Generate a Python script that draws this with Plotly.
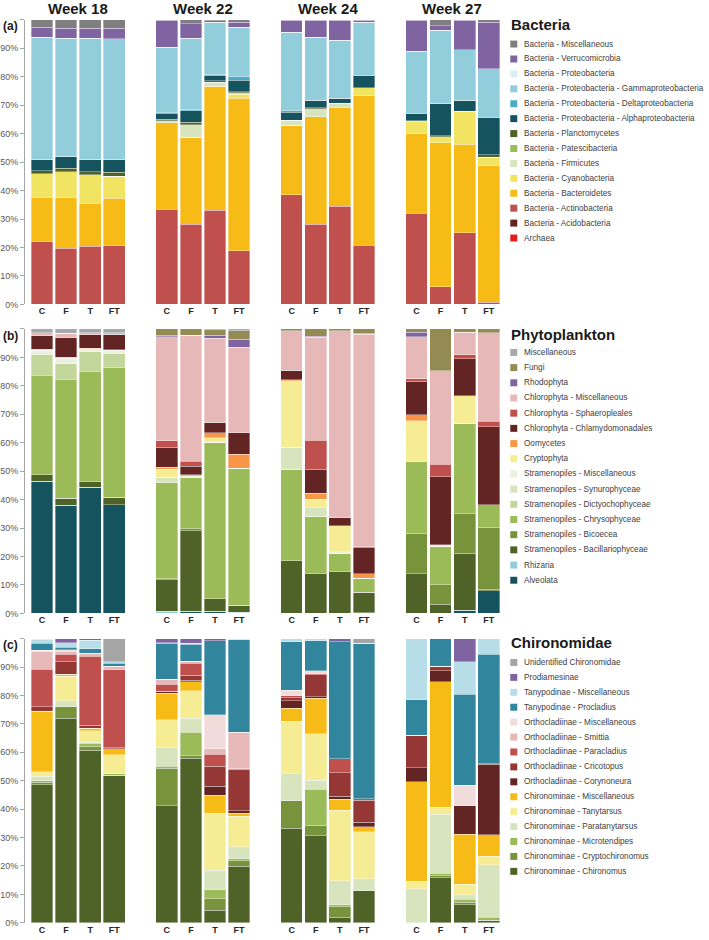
import plotly.graph_objects as go

W, H = 709, 940

weeks = ["Week 18", "Week 22", "Week 24", "Week 27"]
treatments = ["C", "F", "T", "FT"]

# ---- Bacteria (legend order, top of stack first) ----
# each list: Week18 C,F,T,FT | Week22 C,F,T,FT | Week24 ... | Week27 ...
bacteria_taxa = [
    "Bacteria - Miscellaneous", "Bacteria - Verrucomicrobia", "Bacteria - Proteobacteria",
    "Bacteria - Proteobacteria - Gammaproteobacteria", "Bacteria - Proteobacteria - Deltaproteobacteria",
    "Bacteria - Proteobacteria - Alphaproteobacteria", "Bacteria - Planctomycetes",
    "Bacteria - Patescibacteria", "Bacteria - Firmicutes", "Bacteria - Cyanobacteria",
    "Bacteria - Bacteroidetes", "Bacteria - Actinobacteria", "Bacteria - Acidobacteria", "Archaea",
]
bacteria_colors = [
    "#7f7f7f", "#8064a2", "#dbeef4", "#92cddc", "#4bacc6", "#15535f", "#4f6228",
    "#9bbb59", "#d7e4bd", "#f2e463", "#f7bb17", "#c0504d", "#632523", "#e0201b",
]
bacteria = {
    "Bacteria - Miscellaneous": [2.6, 3.0, 2.9, 3.0, 0.2, 1.4, 0.3, 0.9, 0.2, 0.2, 0.2, 0.2, 0.2, 2.1, 0.2, 0.9],
    "Bacteria - Verrucomicrobia": [3.5, 3.5, 3.6, 3.7, 9.4, 5.0, 0.6, 1.7, 4.2, 5.9, 7.0, 0.7, 10.9, 1.6, 10.3, 16.2],
    "Bacteria - Proteobacteria": [0] * 16,
    "Bacteria - Proteobacteria - Gammaproteobacteria": [42.8, 41.4, 42.4, 42.2, 22.9, 25.1, 18.4, 17.4, 27.4, 22.1, 20.4, 18.8, 21.9, 25.6, 17.8, 17.3],
    "Bacteria - Proteobacteria - Deltaproteobacteria": [0.2, 0.2, 0.2, 0.2, 0.3, 0.5, 0.3, 1.3, 0.6, 0, 0, 0, 0, 0, 0, 0],
    "Bacteria - Proteobacteria - Alphaproteobacteria": [3.9, 4.1, 4.3, 4.5, 2.2, 3.9, 1.8, 3.9, 2.8, 2.7, 1.7, 4.1, 2.4, 11.4, 3.8, 13.0],
    "Bacteria - Planctomycetes": [1.0, 1.1, 1.1, 1.3, 0.4, 0.9, 0.5, 0.4, 0, 0.3, 0, 0, 0, 0.3, 0, 0.9],
    "Bacteria - Patescibacteria": [0] * 16,
    "Bacteria - Firmicutes": [0, 0, 0, 0, 0.8, 4.5, 1.4, 0.6, 1.9, 2.9, 1.6, 0, 0.4, 0, 0, 0],
    "Bacteria - Cyanobacteria": [8.4, 9.3, 10.0, 7.8, 0, 0, 0, 1.4, 0, 0, 0, 2.9, 4.2, 2.2, 11.6, 3.0],
    "Bacteria - Bacteroidetes": [15.5, 17.6, 15.1, 16.7, 30.4, 30.5, 43.6, 53.5, 24.3, 37.7, 34.6, 52.6, 27.9, 50.6, 31.1, 48.0],
    "Bacteria - Actinobacteria": [22.1, 19.8, 20.4, 20.6, 33.4, 28.2, 33.1, 18.9, 38.6, 28.2, 34.5, 20.7, 32.1, 6.2, 25.2, 0.7],
    "Bacteria - Acidobacteria": [0] * 16,
    "Archaea": [0] * 16,
}

# ---- Phytoplankton ----
phyto_taxa = [
    "Miscellaneous", "Fungi", "Rhodophyta", "Chlorophyta - Miscellaneous", "Chlorophyta - Sphaeropleales",
    "Chlorophyta - Chlamydomonadales", "Oomycetes", "Cryptophyta", "Stramenopiles - Miscellaneous",
    "Stramenopiles - Synurophyceae", "Stramenopiles - Dictyochophyceae", "Stramenopiles - Chrysophyceae",
    "Stramenopiles - Bicoecea", "Stramenopiles - Bacillariophyceae", "Rhizaria", "Alveolata",
]
phyto_colors = [
    "#a5a9ae", "#948a54", "#8064a2", "#e6b9b8", "#c0504d", "#632523", "#f79646", "#f5ec94",
    "#ebf1de", "#d7e4bd", "#c3d69b", "#9bbb59", "#77933c", "#4f6228", "#92cddc", "#15535f",
]
phyto = {
    "Miscellaneous": [1.3, 1.5, 1.3, 1.3, 0, 0, 0.3, 0.7, 0, 0, 0, 0, 0, 0, 0, 0],
    "Fungi": [0, 0, 0, 0, 2.3, 2.3, 2.0, 3.0, 0.7, 2.6, 0.6, 1.5, 1.2, 14.7, 1.2, 1.4],
    "Rhodophyta": [0, 0, 0, 0, 0.4, 0, 1.0, 2.7, 0, 0.3, 0, 0.4, 1.5, 0, 0, 0],
    "Chlorophyta - Miscellaneous": [0.9, 1.4, 0.7, 0.6, 36.6, 44.2, 29.5, 30.1, 13.9, 36.3, 65.6, 74.7, 14.8, 32.9, 7.9, 31.0],
    "Chlorophyta - Sphaeropleales": [0, 0, 0, 0, 2.2, 1.8, 0, 0, 0, 10.1, 0, 0.3, 0.9, 4.3, 1.4, 2.0],
    "Chlorophyta - Chlamydomonadales": [5.0, 7.1, 4.7, 5.4, 7.2, 2.9, 3.7, 7.6, 3.2, 8.4, 3.0, 9.1, 11.7, 24.0, 13.0, 27.4],
    "Oomycetes": [0.3, 0.3, 0.2, 0.2, 0.6, 0.4, 1.8, 4.9, 0.4, 2.2, 0, 1.6, 2.2, 0, 0, 0],
    "Cryptophyta": [0, 0, 0, 0, 2.9, 0, 1.6, 0, 23.3, 2.9, 9.2, 0, 14.3, 0.4, 9.6, 0],
    "Stramenopiles - Miscellaneous": [1.5, 1.9, 1.1, 1.2, 0, 0.7, 0, 0, 0, 0, 0.5, 0, 0, 0, 0, 0],
    "Stramenopiles - Synurophyceae": [0, 0, 0, 0, 1.8, 0, 0, 0, 7.8, 3.1, 0, 0, 0, 0, 0, 0],
    "Stramenopiles - Dictyochophyceae": [7.2, 5.4, 6.8, 4.9, 0, 0, 0, 0, 0, 0, 0, 0, 0, 0, 0, 0],
    "Stramenopiles - Chrysophyceae": [35.1, 42.0, 39.0, 45.5, 33.8, 17.9, 55.0, 48.1, 32.1, 20.2, 6.5, 4.9, 25.3, 13.7, 31.9, 7.9],
    "Stramenopiles - Bicoecea": [0, 0, 0, 0, 0.4, 0.7, 0, 0, 0, 0, 0, 0, 14.2, 6.7, 13.9, 21.8],
    "Stramenopiles - Bacillariophyceae": [2.3, 2.3, 1.9, 2.7, 11.1, 28.3, 4.4, 2.4, 18.6, 13.9, 14.6, 7.2, 13.9, 3.3, 19.9, 0.6],
    "Rhizaria": [0, 0, 0, 0, 0.7, 0, 0, 0.5, 0, 0, 0, 0.3, 0, 0, 0, 0],
    "Alveolata": [46.4, 38.1, 44.3, 38.2, 0, 0.8, 0.7, 0, 0, 0, 0, 0, 0, 0, 1.2, 7.9],
}

# ---- Chironomidae ----
chiro_taxa = [
    "Unidentified Chironomidae", "Prodiamesinae", "Tanypodinae - Miscellaneous", "Tanypodinae - Procladius",
    "Orthocladiinae - Miscellaneous", "Orthocladiinae - Smittia", "Orthocladiinae - Paracladius",
    "Orthocladiinae - Cricotopus", "Orthocladiinae - Corynoneura", "Chironominae - Miscellaneous",
    "Chironominae - Tanytarsus", "Chironominae - Paratanytarsus", "Chironominae - Microtendipes",
    "Chironominae - Cryptochironomus", "Chironominae - Chironomus",
]
chiro_colors = [
    "#a5a5a5", "#8064a2", "#b7dee8", "#31859c", "#f2dcdb", "#e6b9b8", "#c0504d",
    "#953735", "#632523", "#f7bb17", "#f5ec94", "#d7e4bd", "#9bbb59", "#77933c", "#4f6228",
]
chiro = {
    "Unidentified Chironomidae": [0, 0, 0, 8.1, 0, 0, 0, 0, 0, 0, 0, 1.7, 0, 0, 0, 0],
    "Prodiamesinae": [0.2, 1.5, 0.5, 0, 1.5, 1.7, 0.7, 0.3, 0, 0, 1.2, 0, 0, 0, 8.2, 0],
    "Tanypodinae - Miscellaneous": [1.5, 1.6, 3.1, 0.5, 0.2, 0.3, 0, 0, 1.2, 0.8, 0, 0, 21.6, 0, 11.3, 5.5],
    "Tanypodinae - Procladius": [2.4, 0.9, 1.6, 1.2, 12.6, 5.9, 26.1, 32.7, 16.9, 10.6, 41.1, 54.6, 12.4, 9.7, 32.1, 38.5],
    "Orthocladiinae - Miscellaneous": [0.6, 0.4, 0, 0, 0, 0, 12.0, 0, 2.1, 0.8, 0, 0, 0, 0, 7.3, 0],
    "Orthocladiinae - Smittia": [6.1, 1.2, 1.0, 1.1, 1.7, 0.7, 1.9, 12.8, 0, 0, 0, 0, 0, 0, 0, 0],
    "Orthocladiinae - Paracladius": [13.1, 2.6, 24.3, 27.6, 2.6, 4.3, 4.2, 0.2, 0.7, 0.5, 4.9, 0.6, 0, 0, 0, 0],
    "Orthocladiinae - Cricotopus": [1.6, 4.4, 1.0, 0.2, 0, 1.8, 7.0, 14.6, 0.9, 7.8, 8.2, 7.8, 11.5, 1.6, 0, 0.2],
    "Orthocladiinae - Corynoneura": [0, 0, 0, 0, 0.6, 0.5, 3.2, 0.9, 2.8, 0.5, 1.1, 1.5, 4.8, 3.9, 9.9, 24.9],
    "Chironominae - Miscellaneous": [21.4, 0.6, 0.9, 2.2, 9.4, 3.2, 6.4, 1.1, 4.5, 12.4, 3.9, 1.7, 35.1, 44.1, 17.6, 7.5],
    "Chironominae - Tanytarsus": [1.5, 8.6, 4.1, 6.7, 9.9, 9.7, 20.1, 10.7, 18.5, 16.4, 24.9, 16.6, 2.6, 2.6, 3.7, 2.9],
    "Chironominae - Paratanytarsus": [1.7, 2.1, 0.4, 0, 6.4, 4.9, 6.7, 4.2, 9.4, 3.2, 8.3, 4.3, 12.0, 20.6, 1.6, 18.6],
    "Chironominae - Microtendipes": [0.5, 0, 1.1, 0.5, 0.8, 8.3, 3.2, 0.7, 0, 12.6, 0.8, 0, 0, 0.9, 1.0, 1.0],
    "Chironominae - Cryptochironomus": [0.9, 4.1, 1.3, 0, 13.2, 0.8, 4.1, 1.9, 9.7, 3.7, 3.6, 0, 0, 0.7, 0.9, 0],
    "Chironominae - Chironomus": [48.5, 72.0, 60.7, 51.9, 41.1, 57.9, 4.4, 19.9, 33.3, 30.7, 2.0, 11.2, 0, 15.9, 6.4, 0.9],
}

panels = [
    ("(a)", "Bacteria", bacteria_taxa, bacteria_colors, bacteria),
    ("(b)", "Phytoplankton", phyto_taxa, phyto_colors, phyto),
    ("(c)", "Chironomidae", chiro_taxa, chiro_colors, chiro),
]

# pixel layout: (top of 100%, bottom at 0%) for each row, legend title y and first item y
row_px = [(20, 306), (330.7, 616.7), (642, 927.7)]
legend_px = [(25, 44.3, 15.0), (336.7, 354.3, 15.27), (646, 666, 15.0)]
row_label_y = [26, 338, 648]

FONT = "Arial, Liberation Sans, sans-serif"


def fx(x):
    return x / W


def fy(y):
    return 1 - y / H


fig = go.Figure()
layout = {}
shapes = []
annotations = []

for r, (tag, title, taxa, colors, data) in enumerate(panels):
    top, bot = row_px[r]
    for c, wk in enumerate(weeks):
        n = r * 4 + c + 1
        xa = "x" if n == 1 else f"x{n}"
        ya = "y" if n == 1 else f"y{n}"
        # stack from the bottom of the legend upward
        for taxon, col in reversed(list(zip(taxa, colors))):
            fig.add_trace(go.Bar(
                x=treatments,
                y=data[taxon][c * 4:(c + 1) * 4],
                name=taxon,
                marker=dict(color=col, line=dict(color="rgba(255,255,255,0.7)", width=0.5)),
                showlegend=False,
                xaxis=xa, yaxis=ya,
                hovertemplate=taxon + ": %{y:.1f}%<extra></extra>",
            ))
        x0 = 29 + 125 * c
        layout[f"xaxis{n}"] = dict(
            domain=[fx(x0), fx(x0 + 96.5)], anchor=ya, showgrid=False, showline=False,
            zeroline=False, ticks="", tickfont=dict(size=9, family=FONT, color="#262626", weight="bold"),
            categoryorder="array", categoryarray=treatments,
        )
        yax = dict(domain=[fy(bot), fy(top)], range=[0, 100], anchor=xa, showgrid=False, zeroline=False)
        if c == 0:
            yax.update(
                anchor="free", position=fx(23), showline=True, linecolor="#a6a6a6", linewidth=1,
                ticks="outside", ticklen=4, tickcolor="#a6a6a6",
                tickvals=list(range(0, 101, 10)),
                ticktext=[f"{v}%" for v in range(0, 100, 10)] + [""],
                tickfont=dict(size=9, family=FONT, color="#595959"),
            )
        else:
            yax.update(visible=False)
        layout[f"yaxis{n}"] = yax

        if r == 0:
            annotations.append(dict(
                x=fx(x0 + 48), y=fy(9), xref="paper", yref="paper", showarrow=False,
                text=f"<b>{wk}</b>", font=dict(size=15, family=FONT, color="#1a1a1a"),
                xanchor="center", yanchor="middle",
            ))

    # row tag
    annotations.append(dict(
        x=0, y=fy(row_label_y[r]), xref="paper", yref="paper", showarrow=False,
        text=f"<b>{tag}</b>", font=dict(size=12, family=FONT, color="#1a1a1a"),
        xanchor="left", yanchor="middle",
    ))

    # legend drawn by hand so its spacing matches the original
    ty, iy, step = legend_px[r]
    annotations.append(dict(
        x=fx(509), y=fy(ty), xref="paper", yref="paper", showarrow=False,
        text=f"<b>{title}</b>", font=dict(size=15, family=FONT, color="#1a1a1a"),
        xanchor="left", yanchor="middle",
    ))
    for i, (taxon, col) in enumerate(zip(taxa, colors)):
        yc = iy + step * i
        shapes.append(dict(
            type="rect", xref="paper", yref="paper",
            x0=fx(510), x1=fx(517), y0=fy(yc + 3.5), y1=fy(yc - 3.5),
            fillcolor=col, line=dict(width=0),
        ))
        annotations.append(dict(
            x=fx(522), y=fy(yc), xref="paper", yref="paper", showarrow=False,
            text=taxon, font=dict(size=8.2, family=FONT, color="#404040"),
            xanchor="left", yanchor="middle",
        ))

fig.update_layout(
    width=W, height=H,
    margin=dict(l=0, r=0, t=0, b=0),
    barmode="stack", bargap=0.1,
    plot_bgcolor="white", paper_bgcolor="white",
    showlegend=False,
    shapes=shapes, annotations=annotations,
    **layout,
)

# drop the browser's default 8px body margin so the figure fills the window
fig.write_html(
    "out.html",
    config={"displayModeBar": False},
    post_script="document.body.style.margin = '0';",
)
